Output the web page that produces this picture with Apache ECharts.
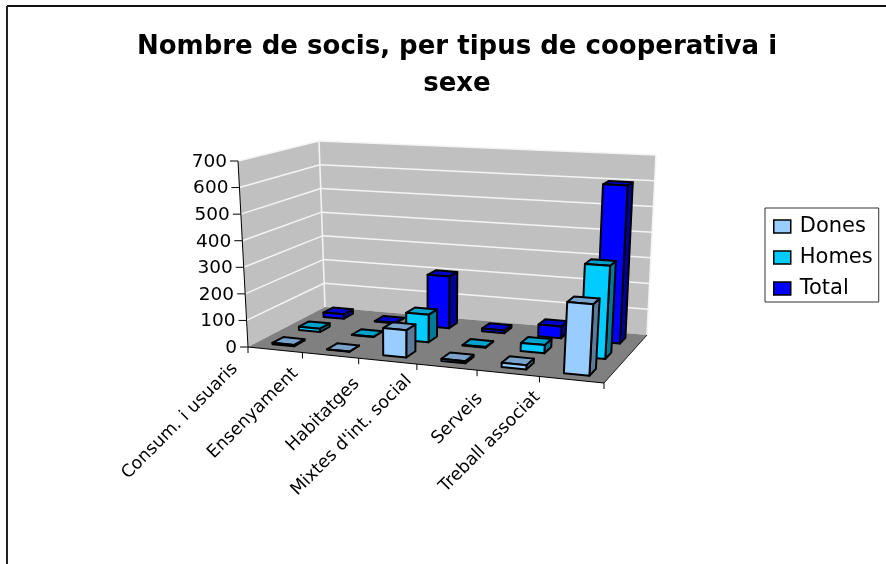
<!DOCTYPE html>
<html><head><meta charset="utf-8">
<style>html,body{margin:0;padding:0;background:#fff}#c{width:886px;height:564px}</style>
<script src="https://cdn.jsdelivr.net/npm/echarts@6/dist/echarts.min.js"></script>
</head><body><div id="c"></div>
<script>
var categories = ['Consum. i usuaris','Ensenyament','Habitatges',"Mixtes d'int. social",'Serveis','Treball associat'];
var valueTicks = [0,100,200,300,400,500,600,700];
var dones = [5,1,100,8,15,250];
var homes = [13,1,105,2,30,340];
var total = [18,2,205,10,45,600];
var titleText = 'Nombre de socis, per tipus de cooperativa i\nsexe';

var FONT = '"DejaVu Sans"';
// 3D box outline on the page: floor and top planes (front-left, front-right, back-right, back-left)
var floorQuad = [[248,347],[604,383],[647,335],[325,307]];
var topQuad   = [[238,161],[616,179],[656,155],[319,141]];
// offset of each rotated category label from its tick
var labelNudge = [[-13,19],[-7,18.5],[-2,23],[-8,14],[3,26],[-2,18]];
function homography(q){
  var x0=q[0][0],y0=q[0][1],x1=q[1][0],y1=q[1][1],x2=q[2][0],y2=q[2][1],x3=q[3][0],y3=q[3][1];
  var dx1=x1-x2,dx2=x3-x2,sx=x0-x1+x2-x3,dy1=y1-y2,dy2=y3-y2,sy=y0-y1+y2-y3;
  var den=dx1*dy2-dx2*dy1,g=(sx*dy2-dx2*sy)/den,h=(dx1*sy-sx*dy1)/den;
  var a=x1-x0+g*x1,b=x3-x0+h*x3,d=y1-y0+g*y1,e=y3-y0+h*y3;
  return function(u,v){var w=g*u+h*v+1;return [(a*u+b*v+x0)/w,(d*u+e*v+y0)/w];};
}
var floorH=homography(floorQuad), topH=homography(topQuad);
// u: 0..1 along categories, v: 0..1 front to back, w: 0..1 up the value axis
function P(u,v,w){var a=floorH(u,v),b=topH(u,v);return [a[0]+(b[0]-a[0])*w,a[1]+(b[1]-a[1])*w];}
function frac(api,params,catIdx,val){
  var s=params.coordSys,c=api.coord([catIdx,val]);
  return [(c[0]-s.x)/s.width,(s.y+s.height-c[1])/s.height];
}
var BAR=0.4, ROWS=3, nCat=categories.length;
function poly(pts,fill){return {type:'polygon',shape:{points:pts},style:{fill:fill,stroke:'#000',lineWidth:2,lineJoin:'round'},silent:true};}
function barSeries(name,values,row,cFront,cTop,cSide){
  return {name:name,type:'custom',coordinateSystem:'cartesian2d',silent:true,
    itemStyle:{color:cFront,borderColor:'#000',borderWidth:1.5},
    data:values.map(function(v,i){return [i,v];}),
    renderItem:function(params,api){
      var f=frac(api,params,api.value(0),api.value(1));
      var du=BAR/nCat/2, dv=BAR/ROWS/2, vc=(row+0.5)/ROWS;
      var u0=f[0]-du,u1=f[0]+du,v0=vc-dv,v1=vc+dv,w=f[1];
      return {type:'group',children:[
        poly([P(u1,v0,0),P(u1,v1,0),P(u1,v1,w),P(u1,v0,w)],cSide),
        poly([P(u0,v0,w),P(u1,v0,w),P(u1,v1,w),P(u0,v1,w)],cTop),
        poly([P(u0,v0,0),P(u1,v0,0),P(u1,v0,w),P(u0,v0,w)],cFront)
      ]};
    }};
}
function seg(a,b,col,lw){return {type:'line',shape:{x1:a[0],y1:a[1],x2:b[0],y2:b[1]},style:{stroke:col,lineWidth:lw},silent:true};}
var wallSeries={type:'custom',coordinateSystem:'cartesian2d',silent:true,data:[[0,0]],
  renderItem:function(){
    var fl=P(0,0,0),bl=P(0,1,0),br=P(1,1,0),fr=P(1,0,0),flt=P(0,0,1),blt=P(0,1,1),brt=P(1,1,1);
    return {type:'group',children:[
      {type:'polygon',shape:{points:[flt,blt,bl,fl]},style:{fill:'#C0C0C0'},silent:true},
      {type:'polygon',shape:{points:[blt,brt,br,bl]},style:{fill:'#C0C0C0'},silent:true},
      {type:'polygon',shape:{points:[fl,bl,br,fr]},style:{fill:'#808080'},silent:true}
    ]};
  }};
var gridSeries={type:'custom',coordinateSystem:'cartesian2d',silent:true,data:valueTicks.map(function(t){return [0,t];}),
  renderItem:function(params,api){
    var w=frac(api,params,0,api.value(1))[1],kids=[];
    if(w>0){kids.push(seg(P(0,0,w),P(0,1,w),'#F4F4F4',1.5),seg(P(0,1,w),P(1,1,w),'#F4F4F4',1.5));}
    var a=P(0,0,w);
    kids.push(seg([a[0]-8,a[1]],a,'#000',1));
    kids.push({type:'text',x:a[0]-11,y:a[1]+1,style:{text:String(api.value(1)),font:'18.5px '+FONT,fill:'#000',textAlign:'right',textVerticalAlign:'middle'},silent:true});
    return {type:'group',children:kids};
  }};
var frameSeries={type:'custom',coordinateSystem:'cartesian2d',silent:true,data:[[0,0]],
  renderItem:function(){
    var bl=P(0,1,0),blt=P(0,1,1),br=P(1,1,0),brt=P(1,1,1);
    return {type:'group',children:[
      seg(bl,blt,'#F4F4F4',1.5),seg(br,brt,'#F4F4F4',1.5),
      seg(P(0,0,0),P(0,0,1),'#000',1),seg(P(0,0,0),P(1,0,0),'#000',1.2),seg(P(1,0,0),P(1,1,0),'#222',1)
    ]};
  }};
var catTickSeries={type:'custom',coordinateSystem:'cartesian2d',silent:true,
  data:categories.map(function(c,i){return [i,0];}),
  renderItem:function(params,api){
    var i=api.value(0),f=frac(api,params,i,0)[0],du=1/nCat/2;
    var kids=[],a=P(f+du,0,0);
    kids.push(seg(a,[a[0],a[1]+6],'#000',1));
    var l=P(f-du,0,0);
    if(i===0){kids.push(seg(l,[l[0],l[1]+6],'#000',1));}
    kids.push({type:'text',x:l[0]+labelNudge[i][0],y:l[1]+labelNudge[i][1],rotation:Math.PI/4,
      style:{text:categories[i],font:'17.5px '+FONT,fill:'#000',textAlign:'right',textVerticalAlign:'middle'},silent:true});
    return {type:'group',children:kids};
  }};
var chart=echarts.init(document.getElementById('c'),null,{renderer:'canvas'});
chart.setOption({
  animation:false,backgroundColor:'#fff',
  title:{text:titleText,left:452,top:24,textAlign:'center',
    textStyle:{fontFamily:FONT,fontWeight:'bold',fontSize:26,lineHeight:37,color:'#000'}},
  legend:{orient:'vertical',left:765,top:208,data:['Dones','Homes','Total'],selectedMode:false,icon:'rect',
    itemWidth:17,itemHeight:13,itemGap:10,padding:[8,6,3,8],borderColor:'#333',borderWidth:1,
    itemStyle:{borderColor:'#000',borderWidth:1.5},
    textStyle:{fontFamily:FONT,fontSize:21,color:'#000',padding:[0,0,0,4]}},
  grid:{left:100,right:100,top:100,bottom:100,show:false},
  xAxis:{type:'category',data:categories,show:false},
  yAxis:{type:'value',min:0,max:700,interval:100,show:false},
  graphic:[
    {type:'line',shape:{x1:7,y1:6,x2:886,y2:6},style:{stroke:'#111',lineWidth:2},silent:true},
    {type:'line',shape:{x1:7,y1:6,x2:7,y2:564},style:{stroke:'#222',lineWidth:2},silent:true}
  ],
  series:[wallSeries,gridSeries,frameSeries,catTickSeries,
    barSeries('Total',total,2,'#0000FF','#0000CC','#000099'),
    barSeries('Homes',homes,1,'#00CCFF','#00A3CC','#007A99'),
    barSeries('Dones',dones,0,'#99CCFF','#7AA3CC','#5B7A99')]
});
</script></body></html>
